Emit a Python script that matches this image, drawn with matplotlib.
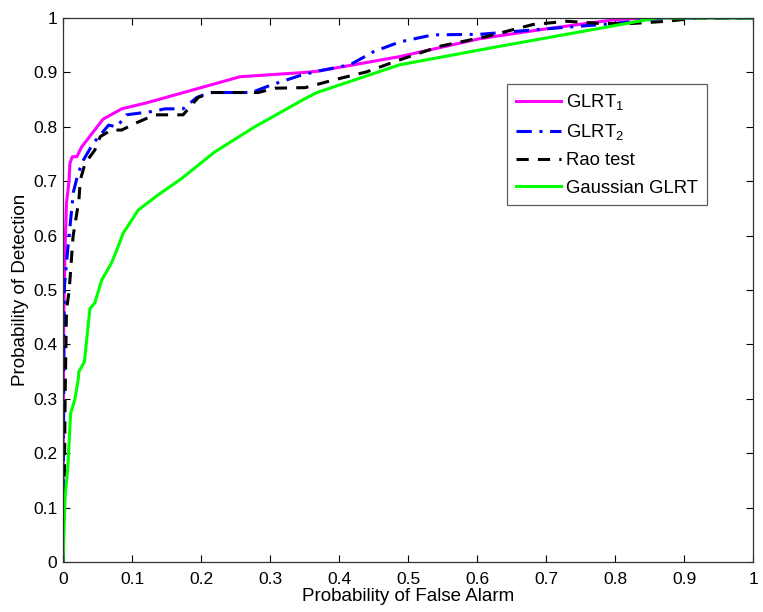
import matplotlib
matplotlib.use("Agg")
import matplotlib.pyplot as plt
from matplotlib.ticker import FormatStrFormatter

plt.rcParams['font.family'] = ['Liberation Sans', 'DejaVu Sans']
plt.rcParams['mathtext.fontset'] = 'custom'
plt.rcParams['mathtext.rm'] = 'Liberation Sans'
plt.rcParams['mathtext.it'] = 'Liberation Sans'

# ROC curves
glrt1_pfa = [0, 0.0005, 0.001, 0.003, 0.005, 0.0087, 0.01, 0.0135, 0.02, 0.027,
             0.058, 0.085, 0.121, 0.2565, 0.351, 0.368, 0.488, 0.604, 0.7, 0.8, 0.85, 1]
glrt1_pd = [0, 0.25, 0.45, 0.58, 0.66, 0.70, 0.733, 0.745, 0.745, 0.763,
            0.814, 0.833, 0.844, 0.892, 0.90, 0.902, 0.929, 0.962, 0.98, 0.997, 1.0, 1]

glrt2_pfa = [0, 0.001, 0.0015, 0.002, 0.0072, 0.012, 0.015, 0.022, 0.03, 0.044,
             0.056, 0.066, 0.078, 0.092, 0.128, 0.148, 0.174, 0.194, 0.213, 0.273,
             0.302, 0.343, 0.368, 0.416, 0.45, 0.488, 0.536, 0.604, 0.7, 0.8, 0.87, 1]
glrt2_pd = [0, 0.3, 0.45, 0.506, 0.58, 0.641, 0.68, 0.715, 0.74, 0.77,
            0.788, 0.803, 0.80, 0.822, 0.828, 0.833, 0.833, 0.854, 0.863, 0.863,
            0.877, 0.894, 0.902, 0.914, 0.938, 0.956, 0.969, 0.97, 0.98, 0.99, 1.0, 1]

rao_pfa = [0, 0.002, 0.003, 0.005, 0.009, 0.0145, 0.023, 0.025, 0.032, 0.046,
           0.054, 0.07, 0.085, 0.104, 0.133, 0.174, 0.196, 0.215, 0.283, 0.307,
           0.351, 0.392, 0.44, 0.488, 0.546, 0.614, 0.681, 0.73, 0.778, 0.826,
           0.875, 0.92, 1]
rao_pd = [0, 0.15, 0.3, 0.463, 0.5, 0.598, 0.665, 0.702, 0.733, 0.757,
          0.782, 0.794, 0.794, 0.806, 0.822, 0.822, 0.854, 0.863, 0.863, 0.871,
          0.872, 0.886, 0.901, 0.923, 0.948, 0.966, 0.988, 0.994, 0.99, 0.99,
          0.994, 1.0, 1]

gauss_pfa = [0, 0.003, 0.007, 0.011, 0.017, 0.022, 0.023, 0.031, 0.039, 0.046,
             0.056, 0.07, 0.08, 0.087, 0.109, 0.138, 0.172, 0.22, 0.278, 0.351,
             0.368, 0.488, 0.633, 0.778, 0.86, 1]
gauss_pd = [0, 0.12, 0.175, 0.273, 0.298, 0.335, 0.35, 0.368, 0.466, 0.476,
            0.518, 0.549, 0.58, 0.604, 0.647, 0.675, 0.705, 0.754, 0.80, 0.852,
            0.863, 0.914, 0.948, 0.981, 1.0, 1]

ticks = [0, 0.1, 0.2, 0.3, 0.4, 0.5, 0.6, 0.7, 0.8, 0.9, 1]

fig = plt.figure(figsize=(7.63, 6.12), dpi=100)
ax = fig.add_axes([0.0826, 0.0817, 0.9043, 0.8889])

ax.plot(glrt1_pfa, glrt1_pd, color='#ff00ff', lw=2.2, label='GLRT$_1$')
ax.plot(glrt2_pfa, glrt2_pd, color='#0000ff', lw=2.2, ls=(0, (5, 2.5, 1, 2.5)),
        label='GLRT$_2$')
ax.plot(rao_pfa, rao_pd, color='black', lw=2.2, ls=(0, (4, 3)), label='Rao test')
ax.plot(gauss_pfa, gauss_pd, color='#00ff00', lw=2.2, label='Gaussian GLRT')

ax.set_xlim(0, 1)
ax.set_ylim(0, 1)
ax.set_xticks(ticks)
ax.set_yticks(ticks)
ax.xaxis.set_major_formatter(FormatStrFormatter('%g'))
ax.yaxis.set_major_formatter(FormatStrFormatter('%g'))
ax.tick_params(direction='in', length=5, width=0.8, top=True, right=True,
               labelsize=12.5)
ax.tick_params(axis='x', pad=7)
ax.tick_params(axis='y', pad=4)
for s in ax.spines.values():
    s.set_linewidth(0.9)
    s.set_color('#333333')

ax.set_xlabel('Probability of False Alarm', fontsize=13.5, labelpad=1)
ax.set_ylabel('Probability of Detection', fontsize=13.5, labelpad=3)

leg = ax.legend(loc='upper right', bbox_to_anchor=(0.933, 0.879), fontsize=13.3,
                frameon=True, fancybox=False, edgecolor='#333333',
                handlelength=2.45, handletextpad=0.3, borderpad=0.45,
                labelspacing=0.55, borderaxespad=0)
leg.get_frame().set_linewidth(0.9)

fig.savefig('out.png', dpi=100)
